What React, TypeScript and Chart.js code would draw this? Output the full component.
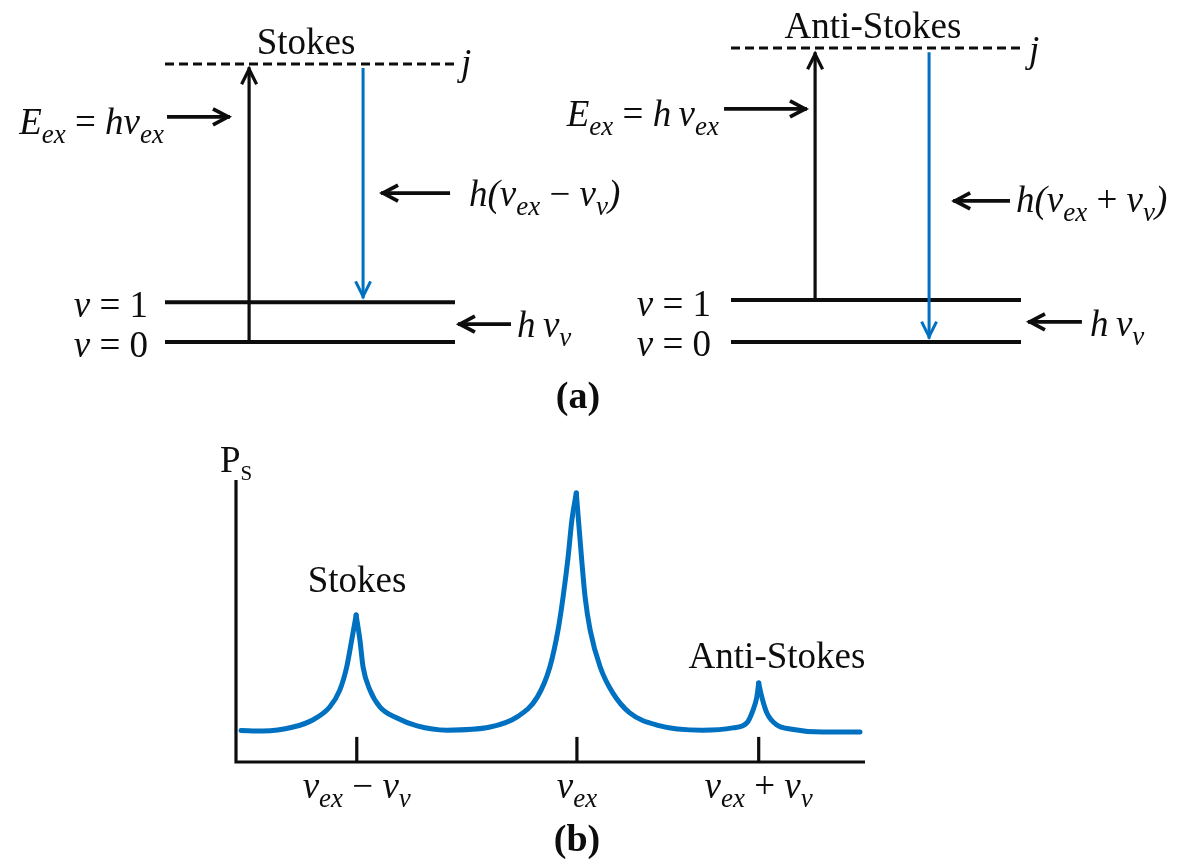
import React, { useEffect, useRef } from "react";
import { Chart, registerables } from "chart.js";

Chart.register(...registerables);

// ---------------- Panel (a): energy-level diagrams ----------------
// Energies in units of hν_v : ν = 0, ν = 1 and the virtual level j
const levelNames = ["ν = 0", "ν = 1"];
const levelEnergies = [0, 1];
const virtualLevelEnergy = 7;
const levelExtent = [0, 10]; // horizontal extent of every level line (diagram units)

// vertical transitions: [x, start energy, end energy]
const stokesExcitation = [2.9, 0, 6.92];
const stokesScattering = [6.83, 6.9, 1.1];
const antiStokesExcitation = [2.9, 1, 6.9];
const antiStokesScattering = [6.83, 6.9, 0.08];

// ---------------- Panel (b): scattered power spectrum ----------------
const frequency = [
  0.8, 4.3, 9.1, 12.2, 14.9, 16.5, 17.6, 18.4, 19.1, 19.7, 20.2, 21.3, 22.9, 25.6, 28.8, 33.5,
  40.4, 44.7, 47.9, 49.9, 51.2, 52.0, 52.8, 53.4, 54.1, 55.0, 55.5, 56.3, 57.9, 59.9, 62.6, 66.9,
  74.2, 79.0, 81.2, 82.2, 82.8, 83.1, 83.6, 84.4, 86.0, 88.1, 93.3, 99.2,
];
const intensity = [
  11.2, 11.0, 12.4, 14.9, 19.5, 25.5, 33.7, 43.3, 52.1, 43.3, 33.7, 25.5, 19.5, 15.6, 12.8, 11.3,
  12.4, 16.0, 23.0, 33.7, 46.8, 58.5, 72.7, 85.8, 95.4, 70.6, 58.5, 46.8, 33.7, 24.5, 17.4, 13.1,
  11.3, 12.1, 13.8, 18.4, 23.0, 28.0, 23.0, 17.4, 13.1, 11.7, 10.6, 10.6,
];
const tickPositions = [19.2, 54.2, 83.1];
const tickLabels = [
  ["ν", "ex", " − ", "ν", "v"],
  ["ν", "ex"],
  ["ν", "ex", " + ", "ν", "v"],
];
const peakLabels = ["Stokes", "Anti-Stokes"];
const tickHeight = 8.9;
const axisTop = 100;
const axisRight = 100;

// ---------------- styling / layout ----------------
const W = 1179;
const H = 859;
const BLUE = "#0070C0";
const INK = "#0d0d0d";
const SERIF = '"Liberation Serif", "Times New Roman", Times, serif';
const FS = 37;

function xRange(originPx: number, ppu: number) {
  return { min: -originPx / ppu, max: (W - originPx) / ppu };
}
function yRange(zeroPx: number, ppu: number) {
  const min = -(H - zeroPx) / ppu;
  return { min, max: min + H / ppu };
}

type Run = { t: string; i?: boolean; b?: boolean; sub?: boolean; size?: number; dy?: number };
type TextItem = { x: number; y: number; align: "left" | "center" | "right"; runs: Run[]; size?: number; bold?: boolean };

const I = (t: string): Run => ({ t, i: true });
const N = (t: string): Run => ({ t });
const S = (t: string): Run => ({ t, i: true, sub: true });

function mathRuns(parts: string[]): Run[] {
  // pattern: ν, sub, op, ν, sub
  return parts.map((p, k) => (k % 3 === 1 ? S(p) : k % 3 === 2 ? N(p) : I(p)));
}

function fontOf(r: Run, base: number, bold?: boolean) {
  const size = r.size ?? (r.sub ? Math.round(base * 0.74) : base);
  return `${r.i ? "italic " : ""}${r.b || bold ? "bold " : ""}${size}px ${SERIF}`;
}

function drawRich(ctx: CanvasRenderingContext2D, item: TextItem) {
  const base = item.size ?? FS;
  const widths = item.runs.map((r) => {
    ctx.font = fontOf(r, base, item.bold);
    return ctx.measureText(r.t).width;
  });
  const total = widths.reduce((a, b) => a + b, 0);
  let cx = item.align === "center" ? item.x - total / 2 : item.align === "right" ? item.x - total : item.x;
  item.runs.forEach((r, k) => {
    ctx.font = fontOf(r, base, item.bold);
    const dy = r.dy ?? (r.sub ? base * 0.24 : 0);
    ctx.fillText(r.t, cx, item.y + dy);
    cx += widths[k];
  });
}

export default function App() {
  const ref = useRef<HTMLCanvasElement | null>(null);

  useEffect(() => {
    const canvas = ref.current;
    if (!canvas) return;

    const seg = (pts: number[][], xAxisID: string, yAxisID: string, extra: any = {}) => ({
      data: pts.map(([x, y]) => ({ x, y })),
      xAxisID,
      yAxisID,
      showLine: true,
      pointRadius: 0,
      borderColor: INK,
      borderWidth: 3,
      borderCapStyle: "butt",
      fill: false,
      order: 1,
      ...extra,
    });

    const datasets: any[] = [];

    const diagram = (
      xId: string,
      yId: string,
      up: number[],
      down: number[],
      annot: { ex: number[]; em: number[]; vib: number[] }
    ) => {
      datasets.push(
        seg([[levelExtent[0], virtualLevelEnergy], [levelExtent[1], virtualLevelEnergy]], xId, yId, {
          borderWidth: 3,
          borderDash: [9, 5],
        })
      );
      levelEnergies.forEach((e) => {
        datasets.push(seg([[levelExtent[0], e], [levelExtent[1], e]], xId, yId, { borderWidth: 4 }));
      });
      datasets.push(seg([[up[0], up[1]], [up[0], up[2]]], xId, yId, { borderWidth: 3.2, arrow: [15, 7.5] }));
      datasets.push(
        seg([[down[0], down[1]], [down[0], down[2]]], xId, yId, {
          borderWidth: 3,
          borderColor: BLUE,
          arrow: [15, 7.5],
          order: 0,
        })
      );
      // annotation arrows [x0, x1, energy]
      [annot.ex, annot.em, annot.vib].forEach((a) => {
        datasets.push(seg([[a[0], a[2]], [a[1], a[2]]], xId, yId, { borderWidth: 3.8, arrow: [15, 8] }));
      });
    };

    diagram("xL", "yL", stokesExcitation, stokesScattering, {
      ex: [0.07, 2.24, 5.67],
      em: [9.83, 7.45, 3.75],
      vib: [11.93, 10.1, 0.45],
    });
    diagram("xR", "yR", antiStokesExcitation, antiStokesScattering, {
      ex: [-0.24, 2.62, 5.55],
      em: [9.62, 7.66, 3.36],
      vib: [12.1, 10.24, 0.48],
    });

    // spectrum axes and ticks
    datasets.push(seg([[0, axisTop], [0, 0], [axisRight, 0]], "xS", "yS", { borderWidth: 3.2, borderJoinStyle: "miter" }));
    tickPositions.forEach((t) => {
      datasets.push(seg([[t, 0], [t, tickHeight]], "xS", "yS", { borderWidth: 3.2 }));
    });
    // spectrum curve, split at each peak so every peak keeps its sharp apex
    const peaks: number[] = [];
    intensity.forEach((v, i) => {
      if (i > 0 && i < intensity.length - 1 && v > intensity[i - 1] && v > intensity[i + 1]) peaks.push(i);
    });
    const bounds = [0, ...peaks, intensity.length - 1];
    for (let k = 0; k < bounds.length - 1; k++) {
      const idx: number[] = [];
      for (let i = bounds[k]; i <= bounds[k + 1]; i++) idx.push(i);
      datasets.push({
        data: idx.map((i) => ({ x: frequency[i], y: intensity[i] })),
        xAxisID: "xS",
        yAxisID: "yS",
        showLine: true,
        pointRadius: 0,
        borderColor: BLUE,
        borderWidth: 5,
        borderCapStyle: "round",
        cubicInterpolationMode: "monotone",
        fill: false,
        order: 0,
      });
    }

    const texts: TextItem[] = [
      // left diagram
      { x: 306, y: 54, align: "center", runs: [N("Stokes")] },
      { x: 461, y: 75, align: "left", runs: [I("j")] },
      { x: 164, y: 134, align: "right", runs: [I("E"), S("ex"), N(" = "), I("h"), I("ν"), S("ex")] },
      { x: 469, y: 206, align: "left", runs: [I("h("), ...mathRuns(["ν", "ex", " − ", "ν", "v"]), I(")")] },
      { x: 517, y: 337, align: "left", runs: [I("h"), N("\u2009"), I("ν"), S("v")] },
      { x: 148, y: 317, align: "right", runs: [I("ν"), N(levelNames[1].slice(1))] },
      { x: 148, y: 357, align: "right", runs: [I("ν"), N(levelNames[0].slice(1))] },
      // right diagram
      { x: 873, y: 38, align: "center", runs: [N("Anti-Stokes")] },
      { x: 1029, y: 62, align: "left", runs: [I("j")] },
      { x: 719, y: 126, align: "right", runs: [I("E"), S("ex"), N(" = "), I("h"), N("\u2009"), I("ν"), S("ex")] },
      { x: 1016, y: 212, align: "left", runs: [I("h("), ...mathRuns(["ν", "ex", " + ", "ν", "v"]), I(")")] },
      { x: 1090, y: 336, align: "left", runs: [I("h"), N("\u2009"), I("ν"), S("v")] },
      { x: 711, y: 316, align: "right", runs: [I("ν"), N(levelNames[1].slice(1))] },
      { x: 711, y: 356, align: "right", runs: [I("ν"), N(levelNames[0].slice(1))] },
      { x: 578, y: 408, align: "center", runs: [N("(a)")], bold: true, size: 38 },
      // spectrum
      { x: 220, y: 472, align: "left", runs: [N("P"), { t: "S", size: 21, dy: 8 }] },
      { x: 357, y: 592, align: "center", runs: [N(peakLabels[0])] },
      { x: 777, y: 668, align: "center", runs: [N(peakLabels[1])] },
      { x: 577, y: 851, align: "center", runs: [N("(b)")], bold: true, size: 38 },
    ];

    const arrowPlugin = {
      id: "arrowHeads",
      afterDatasetsDraw(chart: any) {
        const ctx = chart.ctx as CanvasRenderingContext2D;
        chart.data.datasets.forEach((ds: any, i: number) => {
          if (!ds.arrow) return;
          const pts = chart.getDatasetMeta(i).data;
          const a = pts[pts.length - 2];
          const b = pts[pts.length - 1];
          const dx = b.x - a.x;
          const dy = b.y - a.y;
          const len = Math.hypot(dx, dy) || 1;
          const ux = dx / len;
          const uy = dy / len;
          const [L, Wd] = ds.arrow;
          const tx = b.x - ux * 2;
          const ty = b.y - uy * 2;
          ctx.save();
          ctx.strokeStyle = ds.borderColor;
          ctx.lineWidth = ds.borderWidth;
          ctx.lineJoin = "miter";
          ctx.lineCap = "butt";
          ctx.beginPath();
          ctx.moveTo(tx - ux * L - uy * Wd, ty - uy * L + ux * Wd);
          ctx.lineTo(tx, ty);
          ctx.lineTo(tx - ux * L + uy * Wd, ty - uy * L - ux * Wd);
          ctx.stroke();
          ctx.restore();
        });
      },
    };

    const textPlugin = {
      id: "richText",
      afterDraw(chart: any) {
        const ctx = chart.ctx as CanvasRenderingContext2D;
        ctx.save();
        ctx.fillStyle = INK;
        ctx.textBaseline = "alphabetic";
        texts.forEach((t) => drawRich(ctx, t));
        // tick labels positioned with the spectrum x scale
        const xs = chart.scales.xS;
        tickPositions.forEach((p, k) => {
          drawRich(ctx, { x: xs.getPixelForValue(p), y: 798, align: "center", runs: mathRuns(tickLabels[k]) });
        });
        ctx.restore();
      },
    };

    const hidden = (r: { min: number; max: number }) => ({
      type: "linear",
      display: false,
      bounds: "data",
      min: r.min,
      max: r.max,
    });

    const chart = new Chart(canvas, {
      type: "scatter",
      data: { datasets },
      options: {
        responsive: false,
        animation: false,
        events: [],
        layout: { padding: 0, autoPadding: false },
        plugins: { legend: { display: false }, tooltip: { enabled: false }, title: { display: false } },
        scales: {
          xL: hidden(xRange(165, 29)),
          yL: hidden(yRange(342, 278 / 7)),
          xR: hidden(xRange(731, 29)),
          yR: hidden(yRange(342, 294 / 7)),
          xS: hidden(xRange(236, 6.29)),
          yS: hidden(yRange(762, 2.82)),
        },
      } as any,
      plugins: [arrowPlugin, textPlugin],
    } as any);

    return () => chart.destroy();
  }, []);

  return (
    <div style={{ position: "fixed", left: 0, top: 0, width: W, height: H, background: "#fff" }}>
      <canvas ref={ref} width={W} height={H} style={{ display: "block", width: W, height: H }} />
    </div>
  );
}
